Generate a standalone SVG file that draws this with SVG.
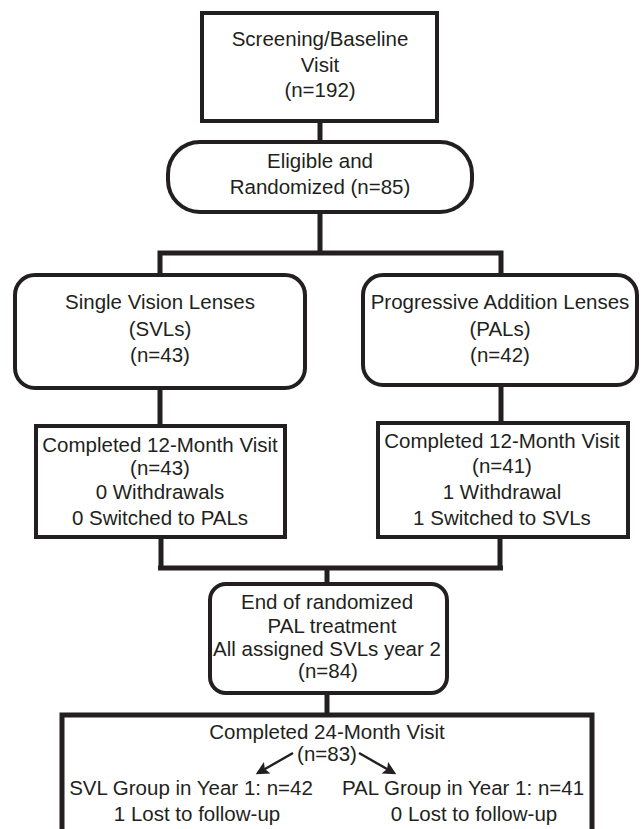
<svg xmlns="http://www.w3.org/2000/svg" width="642" height="829" viewBox="0 0 642 829">
<style>
.box{fill:#fff;stroke:#231f20;stroke-width:4}
.con{fill:none;stroke:#231f20;stroke-width:5}
.arr{fill:none;stroke:#231f20;stroke-width:2.4}
text{font-family:"Liberation Sans",Arial,sans-serif;font-size:20.5px;fill:#231f20;text-anchor:middle}
</style>
<defs>
<marker id="ah" viewBox="0 0 10 10" refX="8" refY="5" markerWidth="6" markerHeight="5.5" orient="auto" markerUnits="strokeWidth">
<path d="M0,0 L10,5 L0,10 L2,5 z" fill="#231f20"/>
</marker>
</defs>
<rect width="642" height="829" fill="#fff"/>
<g id="screening">
<rect class="box" x="202" y="13" width="235" height="108"/>
<text x="320" y="46">Screening/Baseline</text>
<text x="320" y="72">Visit</text>
<text x="320" y="97">(n=192)</text>
</g>
<g id="eligible">
<rect class="box" x="168" y="142" width="304" height="70" rx="32" ry="32"/>
<text x="320" y="168">Eligible and</text>
<text x="320" y="194">Randomized (n=85)</text>
</g>
<g id="svl">
<rect class="box" x="15" y="275" width="290" height="113" rx="20" ry="20"/>
<text x="160" y="309">Single Vision Lenses</text>
<text x="160" y="336">(SVLs)</text>
<text x="160" y="362">(n=43)</text>
</g>
<g id="pal">
<rect class="box" x="363" y="275" width="274" height="110" rx="20" ry="20"/>
<text x="500" y="309">Progressive Addition Lenses</text>
<text x="500" y="336">(PALs)</text>
<text x="500" y="362">(n=42)</text>
</g>
<g id="svl12">
<rect class="box" x="36" y="426" width="249" height="111"/>
<text x="160" y="452">Completed 12-Month Visit</text>
<text x="160" y="475">(n=43)</text>
<text x="160" y="499">0 Withdrawals</text>
<text x="160" y="525">0 Switched to PALs</text>
</g>
<g id="pal12">
<rect class="box" x="378" y="423" width="250" height="114"/>
<text x="502" y="448">Completed 12-Month Visit</text>
<text x="502" y="473">(n=41)</text>
<text x="502" y="499">1 Withdrawal</text>
<text x="502" y="525">1 Switched to SVLs</text>
</g>
<g id="endrand">
<rect class="box" x="210" y="584" width="237" height="109" rx="16" ry="16"/>
<text x="327" y="609">End of randomized</text>
<text x="332" y="633">PAL treatment</text>
<text x="327" y="656">All assigned SVLs year 2</text>
<text x="328" y="678">(n=84)</text>
</g>
<g id="month24">
<rect class="box" x="62" y="715" width="530" height="130" style="stroke-width:5"/>
<text x="327" y="739">Completed 24-Month Visit</text>
<text x="327" y="761">(n=83)</text>
<text x="191" y="795">SVL Group in Year 1: n=42</text>
<text x="197" y="821">1 Lost to follow-up</text>
<text x="463" y="795">PAL Group in Year 1: n=41</text>
<text x="474" y="821">0 Lost to follow-up</text>
</g>
<g id="connectors">
<path class="con" d="M320,123 V140"/>
<path class="con" d="M320,214 V253 M160,253 H501 M160,250.5 V273 M501,250.5 V273"/>
<path class="con" d="M160,390 V424"/>
<path class="con" d="M501,387 V421"/>
<path class="con" d="M161,539 V568 M500,539 V568 M158,568 H503 M327,568 V582"/>
<path class="con" d="M327,695 V713"/>
<path class="arr" marker-end="url(#ah)" d="M293,753 L258,773"/>
<path class="arr" marker-end="url(#ah)" d="M359,753 L394,773"/>
</g>
</svg>
